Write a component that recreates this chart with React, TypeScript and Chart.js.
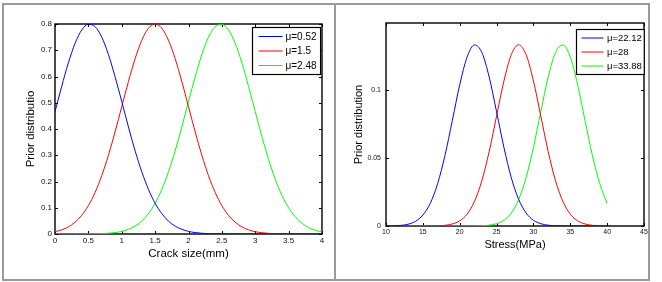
import React, { useEffect, useRef } from "react";
import { Chart, registerables } from "chart.js";

Chart.register(...registerables);

// ---------- data: left panel (crack size) ----------
const CRACK_X = [0, 0.1, 0.2, 0.3, 0.4, 0.5, 0.6, 0.7, 0.8, 0.9, 1, 1.1, 1.2, 1.3, 1.4, 1.5, 1.6, 1.7, 1.8, 1.9, 2, 2.1, 2.2, 2.3, 2.4, 2.5, 2.6, 2.7, 2.8, 2.9, 3, 3.1, 3.2, 3.3, 3.4, 3.5, 3.6, 3.7, 3.8, 3.9, 4];
const CRACK_MU052 = [0.466, 0.562, 0.652, 0.726, 0.777, 0.799, 0.79, 0.75, 0.684, 0.599, 0.505, 0.408, 0.317, 0.237, 0.17, 0.117, 0.078, 0.049, 0.03, 0.018, 0.01, 0.0054, 0.0028, 0.0014, 0.0007, 0.0003, 0.0001, 0, 0, 0, 0, 0, 0, 0, 0, 0, 0, 0, 0, 0, 0];
const CRACK_MU15 = [0.0089, 0.0159, 0.0272, 0.0449, 0.0711, 0.108, 0.158, 0.222, 0.3, 0.389, 0.485, 0.581, 0.668, 0.738, 0.784, 0.8, 0.784, 0.738, 0.668, 0.581, 0.485, 0.389, 0.3, 0.222, 0.158, 0.108, 0.0711, 0.0449, 0.0272, 0.0159, 0.0089, 0.0048, 0.0025, 0.0012, 0.0006, 0.0003, 0.0001, 0, 0, 0, 0];
const CRACK_MU248 = [0, 0, 0, 0, 0.0001, 0.0003, 0.0007, 0.0014, 0.0028, 0.0054, 0.01, 0.018, 0.03, 0.049, 0.078, 0.117, 0.17, 0.237, 0.317, 0.408, 0.505, 0.599, 0.684, 0.75, 0.79, 0.799, 0.777, 0.726, 0.652, 0.562, 0.466, 0.371, 0.284, 0.208, 0.147, 0.1, 0.065, 0.041, 0.0245, 0.0142, 0.0079];
const CRACK_LABELS = ["\u03bc=0.52", "\u03bc=1.5", "\u03bc=2.48"];
const CRACK_X_TICKS = [0, 0.5, 1, 1.5, 2, 2.5, 3, 3.5, 4];
const CRACK_Y_TICKS = [0, 0.1, 0.2, 0.3, 0.4, 0.5, 0.6, 0.7, 0.8];

// ---------- data: right panel (stress) ----------
const STRESS_X = [10, 11, 12, 13, 14, 15, 16, 17, 18, 19, 20, 21, 22, 23, 24, 25, 26, 27, 28, 29, 30, 31, 32, 33, 34, 35, 36, 37, 38, 39, 40];
const STRESS_MU2212 = [0.00004, 0.00014, 0.00045, 0.0013, 0.0034, 0.008, 0.0166, 0.031, 0.0518, 0.0774, 0.1036, 0.124, 0.1329, 0.1274, 0.1093, 0.0839, 0.0576, 0.0354, 0.0195, 0.0096, 0.0042, 0.0017, 0.0006, 0.0002, 0.00005, 0, 0, 0, 0, 0, 0];
const STRESS_MU28 = [0, 0, 0, 0, 0, 0, 0.00004, 0.00016, 0.0005, 0.0015, 0.0038, 0.0087, 0.018, 0.0332, 0.0547, 0.0807, 0.1065, 0.1258, 0.133, 0.1258, 0.1065, 0.0807, 0.0547, 0.0332, 0.018, 0.0087, 0.0038, 0.0015, 0.0005, 0.00016, 0.00004];
const STRESS_MU3388 = [0, 0, 0, 0, 0, 0, 0, 0, 0, 0, 0, 0, 0.00005, 0.0002, 0.0006, 0.0017, 0.0042, 0.0096, 0.0195, 0.0354, 0.0576, 0.0839, 0.1093, 0.1274, 0.1329, 0.124, 0.1036, 0.0774, 0.0518, 0.031, 0.0166];
const STRESS_LABELS = ["\u03bc=22.12", "\u03bc=28", "\u03bc=33.88"];
const STRESS_X_TICKS = [10, 15, 20, 25, 30, 35, 40, 45];
const STRESS_Y_TICKS = [0, 0.05, 0.1];

const FONT = "'Liberation Sans', Arial, Helvetica, sans-serif";
const COLORS = ["#0000ff", "#ff0000", "#00ff00"];

const boxLegendPlugin = {
  id: "boxLegend",
  beforeDatasetsDraw(chart: any, _args: any, opts: any) {
    const { ctx, chartArea: a } = chart;
    ctx.save();
    ctx.strokeStyle = "#000";
    ctx.lineWidth = 1.4;
    ctx.strokeRect(a.left, a.top, a.right - a.left, a.bottom - a.top);
    ctx.lineWidth = 1;
    const L = opts.tickLen;
    const xs = chart.scales.x;
    const ys = chart.scales.y;
    ctx.beginPath();
    xs.ticks.forEach((t: any) => {
      const px = Math.round(xs.getPixelForValue(t.value)) + 0.5;
      ctx.moveTo(px, a.bottom);
      ctx.lineTo(px, a.bottom - L);
      ctx.moveTo(px, a.top);
      ctx.lineTo(px, a.top + L);
    });
    ys.ticks.forEach((t: any) => {
      const py = Math.round(ys.getPixelForValue(t.value)) + 0.5;
      ctx.moveTo(a.left, py);
      ctx.lineTo(a.left + L, py);
      ctx.moveTo(a.right, py);
      ctx.lineTo(a.right - L, py);
    });
    ctx.stroke();
    ctx.restore();
  },
  afterDatasetsDraw(chart: any, _args: any, opts: any) {
    const { ctx, chartArea: a } = chart;
    const ds = chart.data.datasets;
    ctx.save();
    ctx.font = `${opts.fontSize}px ${FONT}`;
    let tw = 0;
    ds.forEach((d: any) => {
      tw = Math.max(tw, ctx.measureText(d.label).width);
    });
    const w = opts.padL + opts.lineLen + opts.gap + tw + opts.padR;
    const h = opts.firstRow * 2 + opts.rowH * (ds.length - 1);
    const x0 = Math.round(a.right - opts.offRight - w) + 0.5;
    const y0 = Math.round(a.top + opts.offTop) + 0.5;
    ctx.fillStyle = "#fff";
    ctx.fillRect(x0, y0, w, h);
    ctx.strokeStyle = "#000";
    ctx.lineWidth = 1.2;
    ctx.strokeRect(x0, y0, w, h);
    ds.forEach((d: any, i: number) => {
      const y = y0 + opts.firstRow + i * opts.rowH;
      ctx.strokeStyle = d.borderColor;
      ctx.lineWidth = 1;
      ctx.beginPath();
      ctx.moveTo(x0 + opts.padL, y);
      ctx.lineTo(x0 + opts.padL + opts.lineLen, y);
      ctx.stroke();
      ctx.fillStyle = "#000";
      ctx.textBaseline = "middle";
      ctx.textAlign = "left";
      ctx.fillText(d.label, x0 + opts.padL + opts.lineLen + opts.gap, y + 0.5);
    });
    ctx.restore();
  },
};

type PanelParams = {
  xs: number[];
  series: number[][];
  labels: string[];
  xMin: number;
  xMax: number;
  yMin: number;
  yMax: number;
  xTicks: number[];
  yTicks: number[];
  xTitle: string;
  yTitle: string;
  tickSize: number;
  titleSize: number;
  xTitleSize: number;
  yAxisW: number;
  xAxisH: number;
  padTop: number;
  padRight: number;
  yTitlePad: number;
  xTitlePad: number;
  yTickPad: number;
  legend: any;
};

function makeConfig(p: PanelParams): any {
  return {
    type: "line",
    data: {
      datasets: p.series.map((ys, i) => ({
        label: p.labels[i],
        data: p.xs.map((x, j) => ({ x, y: ys[j] })),
        borderColor: COLORS[i],
        backgroundColor: COLORS[i],
        borderWidth: 1,
        pointRadius: 0,
        fill: false,
        cubicInterpolationMode: "monotone",
      })),
    },
    options: {
      responsive: false,
      animation: false,
      events: [],
      devicePixelRatio: 1,
      layout: { padding: { top: p.padTop, right: p.padRight, left: 0, bottom: 0 } },
      plugins: {
        legend: { display: false },
        tooltip: { enabled: false },
        boxLegend: p.legend,
      },
      scales: {
        x: {
          type: "linear",
          min: p.xMin,
          max: p.xMax,
          afterBuildTicks: (s: any) => {
            s.ticks = p.xTicks.map((v) => ({ value: v }));
          },
          afterFit: (s: any) => {
            s.height = p.xAxisH;
          },
          grid: { display: false, drawTicks: false },
          border: { display: false },
          ticks: {
            font: { family: FONT, size: p.tickSize },
            color: "#111",
            padding: 2,
            maxRotation: 0,
            autoSkip: false,
            callback: (v: any) => String(v),
          },
          title: {
            display: true,
            text: p.xTitle,
            color: "#000",
            font: { family: FONT, size: p.xTitleSize },
            padding: { top: 0, bottom: p.xTitlePad },
          },
        },
        y: {
          type: "linear",
          min: p.yMin,
          max: p.yMax,
          afterBuildTicks: (s: any) => {
            s.ticks = p.yTicks.map((v) => ({ value: v }));
          },
          afterFit: (s: any) => {
            s.width = p.yAxisW;
          },
          grid: { display: false, drawTicks: false },
          border: { display: false },
          ticks: {
            font: { family: FONT, size: p.tickSize },
            color: "#111",
            padding: p.yTickPad,
            autoSkip: false,
            callback: (v: any) => String(v),
          },
          title: {
            display: true,
            text: p.yTitle,
            color: "#000",
            font: { family: FONT, size: p.titleSize },
            padding: { top: p.yTitlePad, bottom: 0 },
          },
        },
      },
    },
    plugins: [boxLegendPlugin],
  };
}

const LEFT: PanelParams = {
  xs: CRACK_X,
  series: [CRACK_MU052, CRACK_MU15, CRACK_MU248],
  labels: CRACK_LABELS,
  xMin: 0,
  xMax: 4,
  yMin: 0,
  yMax: 0.8,
  xTicks: CRACK_X_TICKS,
  yTicks: CRACK_Y_TICKS,
  xTitle: "Crack size(mm)",
  yTitle: "Prior distributio",
  tickSize: 8,
  titleSize: 11.5,
  xTitleSize: 11.5,
  yAxisW: 55,
  xAxisH: 48,
  padTop: 24,
  padRight: 12,
  yTitlePad: 23.8,
  xTitlePad: 21.1,
  yTickPad: 3,
  legend: { fontSize: 10, padL: 6, lineLen: 24, gap: 3, padR: 4, firstRow: 9, rowH: 14.5, offRight: 2, offTop: 3, tickLen: 3 },
};

const RIGHT: PanelParams = {
  xs: STRESS_X,
  series: [STRESS_MU2212, STRESS_MU28, STRESS_MU3388],
  labels: STRESS_LABELS,
  xMin: 10,
  xMax: 45,
  yMin: 0,
  yMax: 0.149,
  xTicks: STRESS_X_TICKS,
  yTicks: STRESS_Y_TICKS,
  xTitle: "Stress(MPa)",
  yTitle: "Prior distribution",
  tickSize: 7,
  titleSize: 11,
  xTitleSize: 11,
  yAxisW: 51,
  xAxisH: 56,
  padTop: 23,
  padRight: 18,
  yTitlePad: 17.1,
  xTitlePad: 30.4,
  yTickPad: 5,
  legend: { fontSize: 9.5, padL: 5, lineLen: 22, gap: 3.5, padR: 2.5, firstRow: 8.5, rowH: 14, offRight: 0, offTop: 6, tickLen: 3 },
};

function Panel({ params, left, width, height }: { params: PanelParams; left: number; width: number; height: number }) {
  const ref = useRef<HTMLCanvasElement>(null);
  useEffect(() => {
    const chart = new Chart(ref.current as HTMLCanvasElement, makeConfig(params));
    return () => chart.destroy();
  }, [params]);
  return (
    <canvas
      ref={ref}
      width={width}
      height={height}
      style={{ position: "absolute", left, top: 0, width, height, display: "block" }}
    />
  );
}

export default function App() {
  return (
    <div style={{ position: "fixed", left: 0, top: 0, width: 662, height: 282, background: "#fff", overflow: "hidden" }}>
      <div
        style={{
          position: "absolute",
          left: 2,
          top: 3,
          width: 648,
          height: 278,
          border: "2px solid #9a9a9a",
          boxSizing: "border-box",
        }}
      />
      <div style={{ position: "absolute", left: 334, top: 3, width: 2, height: 278, background: "#9a9a9a" }} />
      <Panel params={LEFT} left={0} width={334} height={282} />
      <Panel params={RIGHT} left={335} width={327} height={282} />
    </div>
  );
}
